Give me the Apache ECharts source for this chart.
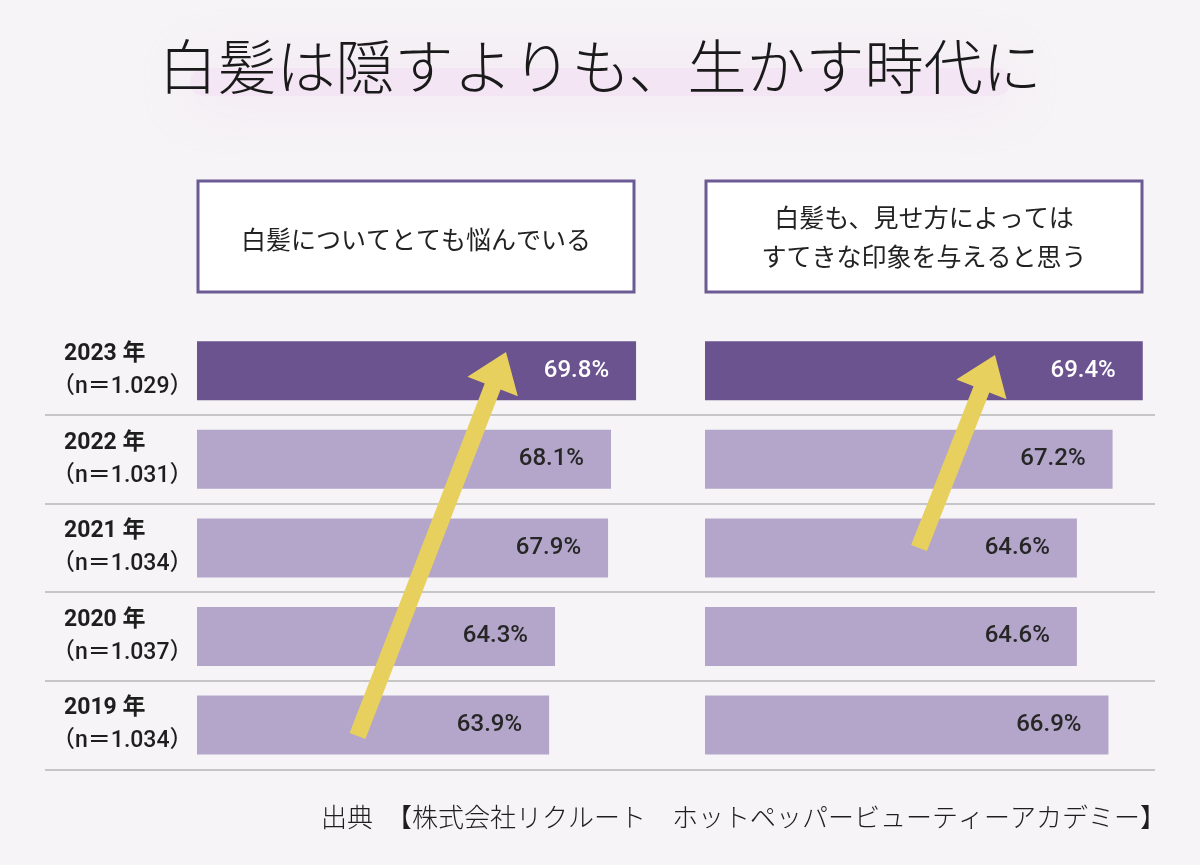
<!DOCTYPE html>
<html>
<head>
<meta charset="utf-8">
<title>白髪は隠すよりも、生かす時代に</title>
<script src="https://cdn.jsdelivr.net/npm/echarts@6/dist/echarts.min.js"></script>
<style>
	html, body { margin: 0; padding: 0; background: #f6f4f6; }
	#main { width: 1200px; height: 865px; }
</style>
</head>
<body>
<div id="main"></div>
<script>
// data (top row first)
const years = ['2023', '2022', '2021', '2020', '2019'];
const sampleN = ['1.029', '1.031', '1.034', '1.037', '1.034'];
const worryValues = [69.8, 68.1, 67.9, 64.3, 63.9];   // 白髪についてとても悩んでいる
const charmValues = [69.4, 67.2, 64.6, 64.6, 66.9];   // すてきな印象を与えると思う
const headerLeft = '白髪についてとても悩んでいる';
const headerRight = '白髪も、見せ方によっては\nすてきな印象を与えると思う';
const titleText = '白髪は隠すよりも、生かす時代に';
const sourceText = '出典　【株式会社リクルート　ホットペッパービューティーアカデミー】';

const DARK = '#6b538f';
const LIGHT = '#b3a6ca';
const YELLOW = '#e8d05e';
const NUM_FONT = "Roboto, 'Noto Sans CJK JP', sans-serif";
const JP_FONT = "'Noto Sans CJK JP', sans-serif";

// bar items, latest year highlighted
function barData(values) {
	return values.map(function (v, i) {
		let latest = i === 0;
		return {
			value: v,
			itemStyle: { color: latest ? DARK : LIGHT },
			label: { color: latest ? '#ffffff' : '#262626' }
		};
	});
}

// arrow outline from tail to tip
function arrowPoints(tail, tip, shaftHalf, headHalf, headLen) {
	let dx = tip[0] - tail[0], dy = tip[1] - tail[1];
	let len = Math.sqrt(dx * dx + dy * dy);
	let ux = dx / len, uy = dy / len;
	let nx = -uy, ny = ux;
	let bx = tip[0] - ux * headLen, by = tip[1] - uy * headLen;
	return [
		[tail[0] + nx * shaftHalf, tail[1] + ny * shaftHalf],
		[bx + nx * shaftHalf, by + ny * shaftHalf],
		[bx + nx * headHalf, by + ny * headHalf],
		[tip[0], tip[1]],
		[bx - nx * headHalf, by - ny * headHalf],
		[bx - nx * shaftHalf, by - ny * shaftHalf],
		[tail[0] - nx * shaftHalf, tail[1] - ny * shaftHalf]
	];
}

let rowTop = 326.5, rowHeight = 442.8;

let barSeries = function (values, idx) {
	return {
		type: 'bar',
		xAxisIndex: idx,
		yAxisIndex: idx,
		barWidth: 59,
		data: barData(values),
		label: {
			show: true,
			position: 'insideRight',
			distance: 27,
			formatter: '{c}%',
			fontFamily: NUM_FONT,
			fontSize: 24,
			fontWeight: 500
		},
		silent: true,
		z: 3
	};
};

let hiddenCat = function (idx) {
	return {
		type: 'category', gridIndex: idx, data: years, inverse: true,
		axisLine: { show: false }, axisTick: { show: false }, axisLabel: { show: false },
		splitLine: { show: false }
	};
};

let option = {
	backgroundColor: '#f6f4f6',
	animation: false,
	grid: [
		{ left: 197, width: 442, top: rowTop, height: rowHeight },
		{ left: 705, width: 446, top: rowTop, height: rowHeight },
		{ left: 45, right: 45, top: rowTop, height: rowHeight }
	],
	xAxis: [
		{ type: 'value', gridIndex: 0, min: 40, max: 70, show: false },
		{ type: 'value', gridIndex: 1, min: 37.5, max: 70, show: false },
		{ type: 'value', gridIndex: 2, min: 0, max: 1, show: false }
	],
	yAxis: [
		hiddenCat(0),
		hiddenCat(1),
		{
			type: 'category', gridIndex: 2, data: years, inverse: true,
			axisLine: { show: false }, axisTick: { show: false },
			axisLabel: {
				inside: true,
				margin: 7,
				formatter: function (value, index) {
					return '{a|' + value + ' 年}\n{b|（n＝' + sampleN[index] + '）}';
				},
				rich: {
					a: { fontFamily: NUM_FONT, fontSize: 23, fontWeight: 'bold', color: '#1e1e1e', lineHeight: 33, padding: [0, 0, 0, 12] },
					b: { fontFamily: NUM_FONT, fontSize: 23, fontWeight: 500, color: '#1e1e1e', lineHeight: 33 }
				}
			},
			splitLine: { show: true, showMinLine: false, lineStyle: { color: '#c6c6c6', width: 2 } }
		}
	],
	series: [
		barSeries(worryValues, 0),
		barSeries(charmValues, 1)
	],
	graphic: [
		// soft glow behind title
		{
			type: 'rect', silent: true, z: 0,
			shape: { x: 190, y: 68, width: 820, height: 28, r: 14 },
			style: { fill: 'rgba(243,220,243,0.45)', shadowBlur: 60, shadowColor: 'rgba(238,204,238,1)' }
		},
		{
			type: 'text', silent: true, z: 2,
			left: 'center', top: 37,
			style: { text: titleText, font: '300 59px ' + JP_FONT, fill: '#1a1a1a' }
		},
		// header boxes
		{
			type: 'rect', silent: true,
			shape: { x: 198, y: 181, width: 436, height: 111 },
			style: { fill: '#ffffff', stroke: '#6b5a93', lineWidth: 3 }
		},
		{
			type: 'text', silent: true,
			x: 416, y: 239,
			style: { text: headerLeft, font: 'normal 25px ' + JP_FONT, fill: '#222222', align: 'center', verticalAlign: 'middle' }
		},
		{
			type: 'rect', silent: true,
			shape: { x: 706, y: 181, width: 436, height: 111 },
			style: { fill: '#ffffff', stroke: '#6b5a93', lineWidth: 3 }
		},
		{
			type: 'text', silent: true,
			x: 924, y: 237,
			style: { text: headerRight, font: 'normal 25px ' + JP_FONT, lineHeight: 39, fill: '#222222', align: 'center', verticalAlign: 'middle' }
		},
		// yellow trend arrows
		{
			type: 'polygon', silent: true, z: 10,
			shape: { points: arrowPoints([357.5, 736], [506, 352], 8.5, 27, 37) },
			style: { fill: YELLOW }
		},
		{
			type: 'polygon', silent: true, z: 10,
			shape: { points: arrowPoints([919, 548], [995, 355], 8.5, 27, 37) },
			style: { fill: YELLOW }
		},
		// source
		{
			type: 'text', silent: true,
			x: 1166, y: 817,
			style: { text: sourceText, font: '300 26px ' + JP_FONT, fill: '#1e1e1e', align: 'right', verticalAlign: 'middle' }
		}
	]
};

let myChart = echarts.init(document.getElementById('main'));
myChart.setOption(option);
</script>
</body>
</html>
